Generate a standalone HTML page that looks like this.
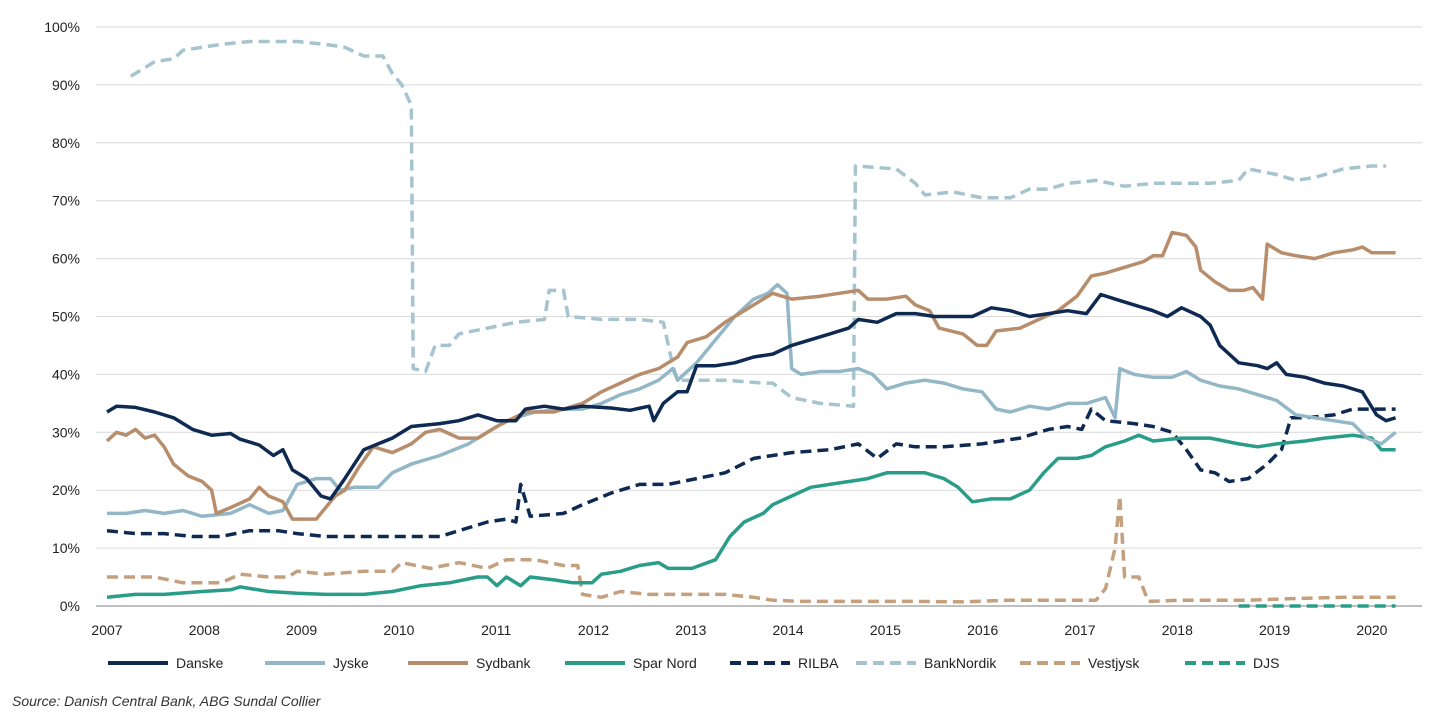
<!DOCTYPE html><html><head><meta charset="utf-8"><style>
body{margin:0;background:#fff;width:1440px;height:715px;overflow:hidden;font-family:"Liberation Sans",Arial,sans-serif;}
svg{position:absolute;left:0;top:0}
</style></head><body>
<svg id="s" width="1440" height="715" xmlns="http://www.w3.org/2000/svg" font-family="Liberation Sans, Arial, sans-serif"></svg>
<script>
const s=document.getElementById('s');
const XL=y=>107+(y-2007)*97.3, X=y=>107+(y-2007)*95.1, Y=v=>606-v*5.79;
let h='';
for(let i=0;i<=10;i++){const y=Y(i*10);h+=`<line x1="96" x2="1422" y1="${y}" y2="${y}" stroke="${i?'#d9d9d9':'#bfbfbf'}" stroke-width="${i?1:2}"/>`;
h+=`<text x="80" y="${y+5}" text-anchor="end" font-size="14" fill="#222">${i*10}%</text>`;}
for(let yr=2007;yr<=2020;yr++)h+=`<text x="${XL(yr)}" y="635" text-anchor="middle" font-size="14" fill="#222">${yr}</text>`;
const P=a=>{let p=[];for(let i=0;i<a.length;i+=2)p.push(X(a[i]).toFixed(1)+','+Y(a[i+1]).toFixed(1));return p.join(' ');};
const S={
dj:[2018.9,0,2020.55,0],
bn:[2007.25,91.5,2007.5,94,2007.7,94.5,2007.8,96,2008,96.5,2008.2,97,2008.5,97.5,2008.8,97.5,2009,97.5,2009.3,97,2009.5,96.5,2009.7,95,2009.9,95,2010,92,2010.1,90,2010.2,86.5,2010.22,41,2010.35,40.5,2010.45,45,2010.6,45,2010.7,47,2011,48,2011.3,49,2011.6,49.5,2011.65,54.5,2011.8,54.5,2011.85,50,2012.2,49.5,2012.6,49.5,2012.85,49,2012.95,41.5,2013,39,2013.5,39,2013.9,38.5,2014,38.5,2014.2,36,2014.5,35,2014.85,34.5,2014.87,76,2015.3,75.5,2015.5,73,2015.6,71,2015.9,71.5,2016.2,70.5,2016.5,70.5,2016.7,72,2016.9,72,2017.1,73,2017.4,73.5,2017.7,72.5,2018,73,2018.3,73,2018.6,73,2018.9,73.5,2019,75.5,2019.3,74.5,2019.5,73.5,2019.7,74,2020,75.5,2020.3,76,2020.45,76],
vj:[2007,5,2007.5,5,2007.8,4,2008.2,4,2008.4,5.5,2008.7,5,2008.9,5,2009,6,2009.3,5.5,2009.7,6,2010,6,2010.1,7.5,2010.4,6.5,2010.7,7.5,2011,6.5,2011.2,8,2011.5,8,2011.8,7,2011.95,7,2012,2,2012.2,1.5,2012.4,2.5,2012.7,2,2013,2,2013.5,2,2013.8,1.5,2014,1,2014.3,0.8,2015,0.8,2015.5,0.8,2016,0.7,2016.5,1,2017,1,2017.4,1,2017.5,3,2017.6,10,2017.65,19,2017.7,5,2017.85,5,2017.95,0.8,2018.3,1,2019,1,2019.5,1.3,2020,1.5,2020.55,1.5],
ri:[2007,13,2007.3,12.5,2007.6,12.5,2007.9,12,2008.2,12,2008.5,13,2008.8,13,2009,12.5,2009.3,12,2009.6,12,2010,12,2010.5,12,2010.7,13,2011,14.5,2011.2,15,2011.3,14.5,2011.35,21,2011.45,15.5,2011.8,16,2012,17.5,2012.3,19.5,2012.6,21,2012.9,21,2013.2,22,2013.5,23,2013.8,25.5,2014.2,26.5,2014.6,27,2014.9,28,2015.1,25.5,2015.3,28,2015.5,27.5,2015.8,27.5,2016.2,28,2016.6,29,2016.9,30.5,2017.1,31,2017.25,30.5,2017.35,34,2017.5,32,2017.8,31.5,2018,31,2018.2,30,2018.35,27,2018.5,23.5,2018.65,23,2018.8,21.5,2019,22,2019.2,24.5,2019.35,27,2019.45,32.5,2019.6,32.5,2019.9,33,2020.1,34,2020.35,34,2020.55,34],
sn:[2007,1.5,2007.3,2,2007.6,2,2008,2.5,2008.3,2.8,2008.4,3.3,2008.7,2.5,2009,2.2,2009.3,2,2009.7,2,2010,2.5,2010.3,3.5,2010.6,4,2010.9,5,2011,5,2011.1,3.5,2011.2,5,2011.35,3.5,2011.45,5,2011.7,4.5,2011.9,4,2012.1,4,2012.2,5.5,2012.4,6,2012.6,7,2012.8,7.5,2012.9,6.5,2013.15,6.5,2013.4,8,2013.55,12,2013.7,14.5,2013.9,16,2014,17.5,2014.2,19,2014.4,20.5,2014.6,21,2014.8,21.5,2015,22,2015.1,22.5,2015.2,23,2015.4,23,2015.6,23,2015.8,22,2015.95,20.5,2016.1,18,2016.3,18.5,2016.5,18.5,2016.7,20,2016.85,23,2017,25.5,2017.2,25.5,2017.35,26,2017.5,27.5,2017.7,28.5,2017.85,29.5,2018,28.5,2018.3,29,2018.6,29,2018.9,28,2019.1,27.5,2019.3,28,2019.6,28.5,2019.8,29,2020.1,29.5,2020.3,29,2020.4,27,2020.55,27],
jy:[2007,16,2007.2,16,2007.4,16.5,2007.6,16,2007.8,16.5,2008,15.5,2008.3,16,2008.5,17.5,2008.7,16,2008.85,16.5,2009,21,2009.2,22,2009.35,22,2009.45,20,2009.6,20.5,2009.85,20.5,2010,23,2010.2,24.5,2010.5,26,2010.8,28,2011,30,2011.2,32,2011.5,33.5,2011.8,34,2012,34,2012.2,35,2012.4,36.5,2012.6,37.5,2012.8,39,2012.95,41,2013,39,2013.2,42,2013.4,46,2013.6,50,2013.8,53,2013.95,54,2014.05,55.5,2014.15,54,2014.2,41,2014.3,40,2014.5,40.5,2014.7,40.5,2014.9,41,2015.05,40,2015.2,37.5,2015.4,38.5,2015.6,39,2015.8,38.5,2016,37.5,2016.2,37,2016.35,34,2016.5,33.5,2016.7,34.5,2016.9,34,2017.1,35,2017.3,35,2017.5,36,2017.6,32.5,2017.65,41,2017.8,40,2018,39.5,2018.2,39.5,2018.35,40.5,2018.5,39,2018.7,38,2018.9,37.5,2019.1,36.5,2019.3,35.5,2019.5,33,2019.7,32.5,2019.9,32,2020.1,31.5,2020.25,29,2020.4,28,2020.55,30],
sy:[2007,28.5,2007.1,30,2007.2,29.5,2007.3,30.5,2007.4,29,2007.5,29.5,2007.6,27.5,2007.7,24.5,2007.85,22.5,2008,21.5,2008.1,20,2008.15,16,2008.3,17,2008.5,18.5,2008.6,20.5,2008.7,19,2008.85,18,2008.95,15,2009.2,15,2009.4,19,2009.5,20,2009.65,24,2009.8,27.5,2010,26.5,2010.2,28,2010.35,30,2010.5,30.5,2010.7,29,2010.9,29,2011.1,31,2011.4,33.5,2011.7,33.5,2011.9,34.5,2012,35,2012.2,37,2012.4,38.5,2012.6,40,2012.8,41,2013,43,2013.1,45.5,2013.3,46.5,2013.5,49,2013.7,51,2013.9,53,2014,54,2014.2,53,2014.5,53.5,2014.7,54,2014.9,54.5,2015,53,2015.2,53,2015.4,53.5,2015.5,52,2015.65,51,2015.75,48,2016,47,2016.15,45,2016.25,45,2016.35,47.5,2016.6,48,2016.8,49.5,2017,51,2017.2,53.5,2017.35,57,2017.5,57.5,2017.7,58.5,2017.9,59.5,2018,60.5,2018.1,60.5,2018.2,64.5,2018.35,64,2018.45,62,2018.5,58,2018.65,56,2018.8,54.5,2018.95,54.5,2019.05,55,2019.15,53,2019.2,62.5,2019.35,61,2019.5,60.5,2019.7,60,2019.9,61,2020.1,61.5,2020.2,62,2020.3,61,2020.55,61],
da:[2007,33.5,2007.1,34.5,2007.3,34.3,2007.5,33.5,2007.7,32.5,2007.9,30.5,2008.1,29.5,2008.3,29.8,2008.4,28.8,2008.6,27.8,2008.75,26,2008.85,27,2008.95,23.5,2009.1,22,2009.25,19,2009.35,18.5,2009.5,22,2009.7,27,2009.85,28,2010,29,2010.2,31,2010.5,31.5,2010.7,32,2010.9,33,2011.1,32,2011.3,32,2011.4,34,2011.6,34.5,2011.8,34,2012,34.5,2012.3,34.2,2012.5,33.8,2012.7,34.5,2012.75,32,2012.85,35,2013,37,2013.1,37,2013.2,41.5,2013.4,41.5,2013.6,42,2013.8,43,2014,43.5,2014.2,45,2014.4,46,2014.6,47,2014.8,48,2014.9,49.5,2015.1,49,2015.3,50.5,2015.5,50.5,2015.7,50,2015.9,50,2016.1,50,2016.3,51.5,2016.5,51,2016.7,50,2016.9,50.5,2017.1,51,2017.3,50.5,2017.45,53.8,2017.6,53,2017.8,52,2018,51,2018.15,50,2018.3,51.5,2018.5,50,2018.6,48.5,2018.7,45,2018.9,42,2019.1,41.5,2019.2,41,2019.3,42,2019.4,40,2019.6,39.5,2019.8,38.5,2020,38,2020.2,37,2020.35,33,2020.45,32,2020.55,32.5]};
const st={da:['#0f2a52',0],jy:['#93b7c6',0],sy:['#b88d6b',0],sn:['#2a9d88',0],ri:['#0f2a52',1],bn:['#a6c4d0',1],vj:['#c4a07f',1],dj:['#2a9d88',1]};
for(const k of ['dj','bn','vj','ri','sn','jy','sy','da']){h+=`<polyline points="${P(S[k])}" fill="none" stroke="${st[k][0]}" stroke-width="3.5" stroke-linejoin="round" ${st[k][1]?'stroke-dasharray="11 6"':''}/>`;}
const L=[['Danske','da',108],['Jyske','jy',265],['Sydbank','sy',408],['Spar Nord','sn',565],['RILBA','ri',730],['BankNordik','bn',856],['Vestjysk','vj',1020],['DJS','dj',1185]];
for(const [n,k,x] of L){h+=`<line x1="${x}" x2="${x+60}" y1="663" y2="663" stroke="${st[k][0]}" stroke-width="4" ${st[k][1]?'stroke-dasharray="11 6"':''}/>`;h+=`<text x="${x+68}" y="668" font-size="14" fill="#222">${n}</text>`;}
h+=`<text x="12" y="706" font-size="14" font-style="italic" fill="#333">Source: Danish Central Bank, ABG Sundal Collier</text>`;
s.innerHTML=h;
</script>
</body></html>
